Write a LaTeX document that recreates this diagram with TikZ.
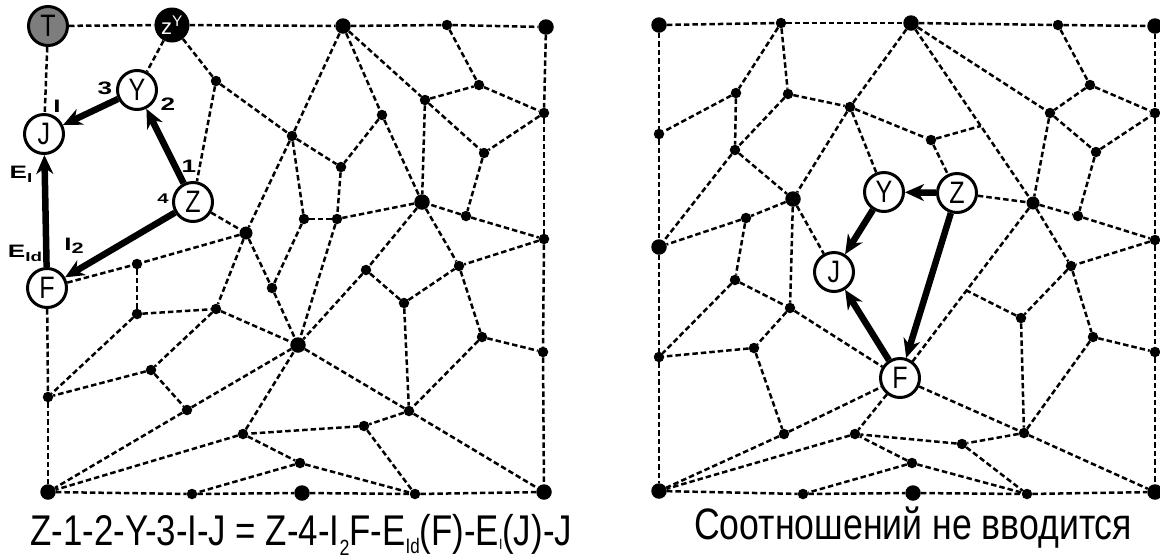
\documentclass[tikz,border=0pt]{standalone}
\usepackage{fontspec}
\setmainfont{Liberation Sans}
\newfontfamily\nfont{Liberation Sans}[FakeStretch=0.81]
\newfontfamily\lfont{Liberation Sans}[FakeStretch=1.45]
\usetikzlibrary{arrows.meta,calc}
\definecolor{tgray}{RGB}{125,125,125}
\newcommand\lowsub[3]{\raisebox{-#1}{\fontsize{#2pt}{#2pt}\selectfont #3}}
\begin{document}
\begin{tikzpicture}[x=1pt,y=-1pt,
  dot/.style={circle,fill=black,inner sep=0pt,minimum size=10.5pt},
  mdot/.style={dot,minimum size=13pt},
  bdot/.style={dot,minimum size=15.5pt},
  lnk/.style={line width=2.5pt,dash pattern=on 5.5pt off 3pt},
  vtx/.style={circle,draw,line width=3pt,fill=white,minimum size=39pt,inner sep=0pt,font=\nfont\fontsize{31}{31}\selectfont},
  arr/.style={line width=6.5pt,-{Stealth[length=19pt,width=17pt,inset=6pt]}},
  lab/.style={inner sep=0pt,font=\lfont\bfseries\fontsize{18}{18}\selectfont},
  captxt/.style={anchor=base west,inner sep=0pt,font=\nfont\fontsize{43}{43}\selectfont}]
\useasboundingbox (0,0) rectangle (1160,558);
% ---------------- left panel ----------------
\node[vtx,fill=tgray] (T) at (48,26) {T};
\node[circle,fill=black,minimum size=35pt,inner sep=0pt] (ZY) at (172,25) {\color{white}\fontsize{22}{22}\selectfont z\textsuperscript{Y}};
\node[bdot] (a3) at (343,26) {};
\node[dot] (a4) at (447,25) {};
\node[bdot] (a5) at (546,27) {};
\node[dot] (a6) at (216,81) {};
\node[dot] (a7) at (292,136) {};
\node[dot] (a8) at (382,115) {};
\node[dot] (a9) at (425,100) {};
\node[dot] (a10) at (479,85) {};
\node[dot] (a11) at (544,113) {};
\node[dot] (a12) at (341,167) {};
\node[dot] (a13) at (484,153) {};
\node[bdot] (a14) at (422,202) {};
\node[dot] (a15) at (304,219) {};
\node[dot] (a16) at (337,219) {};
\node[dot] (a17) at (466,216) {};
\node[dot] (a18) at (544,239) {};
\node[mdot] (a19) at (246,233) {};
\node[dot] (a20) at (137,264) {};
\node[dot] (a21) at (137,314) {};
\node[dot] (a22) at (216,309) {};
\node[dot] (a23) at (272,288) {};
\node[bdot] (a24) at (298,345) {};
\node[dot] (a25) at (151,370) {};
\node[dot] (a26) at (48,397) {};
\node[dot] (a27) at (187,410) {};
\node[dot] (a28) at (243,434) {};
\node[dot] (a29) at (300,463) {};
\node[bdot] (a30) at (48,492) {};
\node[dot] (a31) at (192,494) {};
\node[bdot] (a32) at (302,493) {};
\node[dot] (a33) at (415,494) {};
\node[bdot] (a34) at (544,492) {};
\node[dot] (a35) at (366,270) {};
\node[dot] (a36) at (404,303) {};
\node[dot] (a37) at (459,266) {};
\node[dot] (a38) at (482,337) {};
\node[dot] (a39) at (543,352) {};
\node[dot] (a40) at (409,411) {};
\node[dot] (a41) at (364,426) {};
\node[vtx] (J) at (44,134) {J};
\node[vtx] (Y) at (137,90) {Y};
\node[vtx] (Z) at (193,202) {Z};
\node[vtx] (F) at (47,288) {F};
\foreach \u/\v in {T/ZY,ZY/a3,a3/a4,a4/a5,T/J,F/a26,a26/a30,a30/a31,a31/a32,a32/a33,a33/a34,
  a5/a11,a11/a18,a18/a39,a39/a34,ZY/Y,ZY/a6,a6/Z,a6/a7,a7/a3,a7/a19,a7/a15,a7/a12,
  a3/a8,a3/a9,a8/a12,a8/a14,a9/a10,a9/a14,a9/a13,a4/a10,a10/a11,a11/a13,a13/a17,a17/a18,a17/a14,
  a14/a16,a16/a15,a12/a16,a15/a23,a16/a24,a14/a35,a14/a37,a18/a37,
  Z/a19,a19/a20,a19/a22,a19/a23,F/a20,a20/a21,a21/a22,a21/a26,
  a22/a25,a22/a24,a25/a26,a25/a27,a27/a24,a27/a30,
  a23/a24,a28/a24,a28/a30,a28/a29,a29/a31,a29/a33,
  a35/a24,a35/a36,a36/a37,a36/a40,a37/a38,a38/a39,a38/a40,
  a24/a40,a40/a34,a40/a41,a41/a28,a41/a33}
  \draw[lnk] (\u) -- (\v);
\draw[arr] (Y) -- (J);
\draw[arr] (Z) -- (Y);
\draw[arr] (Z) -- (F);
\draw[arr] (F) -- (J);
\node[lab] (l3) at (105,88) {3};
\node[lab] (l2) at (168,104) {2};
\node[lab] (lI) at (57,106) {I};
\node[lab] (l1) at (189,166) {1};
\node[lab,font=\lfont\bfseries\fontsize{14}{14}\selectfont] (l4) at (163,199) {4};
\node[lab] (lE1) at (21,174) {E\lowsub{4pt}{13}{I}};
\node[lab] (lE2) at (25,253) {E\lowsub{4pt}{13}{Id}};
\node[lab] (lI2) at (74,246) {I\lowsub{3pt}{15}{2}};
\node[captxt] (c1) at (30,545) {Z-1-2-Y-3-I-J = Z-4-I\lowsub{10pt}{22}{2}F-E\lowsub{8pt}{21}{Id}(F)-E\lowsub{4pt}{15}{I}(J)-J};
% ---------------- right panel ----------------
\node[bdot] (b1) at (659,25) {};
\node[dot] (b2) at (781,23) {};
\node[bdot] (b3) at (911,23) {};
\node[dot] (b4) at (1058,25) {};
\node[bdot] (b5) at (1155,26) {};
\node[dot] (b6) at (736,93) {};
\node[dot] (b7) at (788,94) {};
\node[dot] (b8) at (850,107) {};
\node[dot] (b9) at (659,134) {};
\node[dot] (b10) at (735,150) {};
\node[bdot] (b11) at (793,199) {};
\node[dot] (b12) at (746,218) {};
\node[bdot] (b13) at (659,247) {};
\node[dot] (b14) at (1090,85) {};
\node[dot] (b15) at (1050,113) {};
\node[dot] (b16) at (1155,113) {};
\node[dot] (b17) at (931,140) {};
\node[dot] (b18) at (1096,152) {};
\node[mdot] (b19) at (1033,203) {};
\node[dot] (b20) at (1078,216) {};
\node[dot] (b21) at (1155,240) {};
\node[dot] (b22) at (735,280) {};
\node[dot] (b23) at (790,308) {};
\node[dot] (b24) at (754,348) {};
\node[dot] (b25) at (659,357) {};
\node[dot] (b26) at (784,434) {};
\node[dot] (b27) at (855,434) {};
\node[bdot] (b28) at (659,491) {};
\node[dot] (b29) at (803,494) {};
\node[dot] (b30) at (1071,266) {};
\node[dot] (b31) at (1021,318) {};
\node[dot] (b32) at (1093,337) {};
\node[dot] (b33) at (1155,352) {};
\node[dot] (b34) at (1024,433) {};
\node[dot] (b35) at (962,444) {};
\node[dot] (b36) at (912,463) {};
\node[bdot] (b37) at (913,493) {};
\node[dot] (b38) at (1027,494) {};
\node[bdot] (b39) at (1155,492) {};
\node[vtx] (RY) at (884,192) {Y};
\node[vtx] (RZ) at (957,193) {Z};
\node[vtx] (RJ) at (834,272) {J};
\node[vtx] (RF) at (900,378) {F};
\coordinate (j1) at ($(b3)!0.572!(b19)$);
\coordinate (j2) at ($(b19)!0.5!(RF)$);
\foreach \u/\v in {b1/b2,b2/b3,b3/b4,b4/b5,b1/b9,b9/b13,b13/b25,b25/b28,
  b28/b29,b29/b37,b37/b38,b38/b39,b5/b16,b16/b21,b21/b33,b33/b39,
  b2/b6,b2/b7,b6/b9,b6/b10,b7/b10,b7/b8,b8/b3,b8/b17,b8/b11,b8/RY,
  b10/b11,b10/b13,b11/b12,b12/b13,b12/b22,b11/b23,b11/RJ,
  b3/b19,b3/b15,b4/b14,b14/b15,b14/b16,b15/b18,b18/b16,b15/b19,b18/b20,b20/b21,b19/b20,
  b17/j1,b17/RZ,RZ/b19,b19/RF,b19/b30,b21/b30,
  b30/b31,b30/b32,b32/b33,b32/b34,b31/b34,b31/j2,RF/b34,
  b34/b35,b34/b39,b35/b27,b35/b38,b36/b38,b36/b29,b36/b27,RF/b27,
  b22/b23,b22/b25,b23/b24,b23/RF,b24/b25,b24/b26,b26/RF,b26/b28,b27/b28}
  \draw[lnk] (\u) -- (\v);
\draw[arr] (RZ) -- (RY);
\draw[arr] (RY) -- (RJ);
\draw[arr] (RZ) -- (RF);
\draw[arr] (RF) -- (RJ);
\node[captxt,font=\nfont\fontsize{44}{44}\selectfont] (c2) at (694,539) {Соотношений не вводится};
\end{tikzpicture}
\end{document}
